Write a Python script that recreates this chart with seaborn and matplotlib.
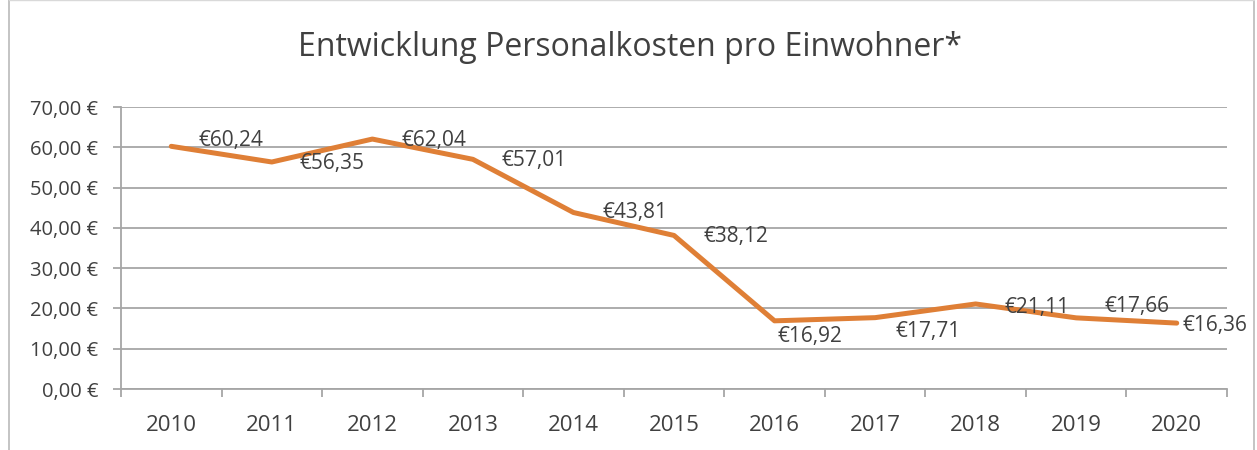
"""
Entwicklung Personalkosten pro Einwohner – Liniendiagramm mit Datenbeschriftung.
"""

import matplotlib
matplotlib.use('Agg')
import matplotlib.pyplot as plt
from matplotlib.ticker import FuncFormatter, FixedLocator
from matplotlib.lines import Line2D
import pandas as pd
import seaborn as sns

# ── Daten ──
JAHRE  = ['2010', '2011', '2012', '2013', '2014', '2015',
          '2016', '2017', '2018', '2019', '2020']
KOSTEN = [60.24, 56.35, 62.04, 57.01, 43.81, 38.12,
          16.92, 17.71, 21.11, 17.66, 16.36]
TITEL  = 'Entwicklung Personalkosten pro Einwohner*'

# Versatz der Beschriftungen (Pixel, rechts / oben)
LABEL_OFFSET = [(27, 6), (28, -2), (29, -1), (29, -1), (29, 0), (29, -1),
                (3, -16), (20, -14), (29, -4), (28, 11), (6, -2)]

GRAU   = '#A6A6A6'
TEXT   = '#404040'
ORANGE = '#DF7F36'

sns.set_theme(style='white')
plt.rcParams['font.family'] = ['Open Sans', 'DejaVu Sans']

df = pd.DataFrame({'Jahr': JAHRE, 'Kosten': KOSTEN})

fig = plt.figure(figsize=(12.57, 4.5), dpi=100)
ax = fig.add_axes([121 / 1257, 1 - 389 / 450, (1227 - 121) / 1257, (389 - 107) / 450])

sns.lineplot(data=df, x='Jahr', y='Kosten', ax=ax, color=ORANGE,
             linewidth=3.6, solid_capstyle='round', sort=False)

# Datenbeschriftungen
for i, (jahr, wert) in enumerate(zip(JAHRE, KOSTEN)):
    dx, dy = LABEL_OFFSET[i]
    txt = '€' + f'{wert:.2f}'.replace('.', ',')
    ax.annotate(txt, (i, wert), xytext=(dx * 0.72, dy * 0.72),
                textcoords='offset points', ha='left', va='center',
                fontsize=15, color=TEXT)

# Achsen
ax.set_ylim(0, 70)
ax.set_xlim(-0.5, len(JAHRE) - 0.5)
ax.yaxis.set_major_locator(FixedLocator(range(0, 71, 10)))
ax.yaxis.set_major_formatter(FuncFormatter(lambda v, p: f'{v:.2f} €'.replace('.', ',')))
ax.xaxis.set_minor_locator(FixedLocator([i - 0.5 for i in range(len(JAHRE) + 1)]))

ax.grid(axis='y', color=GRAU, linewidth=1.3)
ax.set_axisbelow(True)
ax.set_xlabel('')
ax.set_ylabel('')
for s in ['top', 'right']:
    ax.spines[s].set_visible(False)
for s in ['left', 'bottom']:
    ax.spines[s].set_color(GRAU)
    ax.spines[s].set_linewidth(1.3)

ax.tick_params(axis='y', which='major', length=6, width=1.3, color=GRAU,
               labelsize=14.5, labelcolor=TEXT, pad=10.5, left=True)
ax.tick_params(axis='x', which='major', length=0, labelsize=16,
               labelcolor=TEXT, pad=19)
ax.tick_params(axis='x', which='minor', length=6, width=1.3, color=GRAU,
               bottom=True)

fig.text(630 / 1257, 1 - 48 / 450, TITEL, ha='center', va='center',
         fontsize=23, color=TEXT)

# Diagrammrahmen
for xpos in [9 / 1257, 1254 / 1257]:
    fig.add_artist(Line2D([xpos, xpos], [0, 1], transform=fig.transFigure,
                          color='#BFBFBF', linewidth=1.3))
fig.add_artist(Line2D([9 / 1257, 1254 / 1257], [0.999, 0.999],
                      transform=fig.transFigure, color='#D9D9D9', linewidth=1))

fig.savefig('out.png', dpi=100)
plt.close(fig)
